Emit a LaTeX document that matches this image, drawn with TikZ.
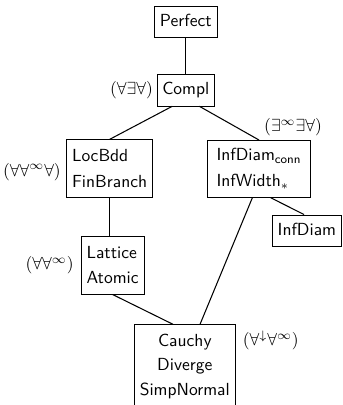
\documentclass[tikz,border=0pt]{standalone}
\usepackage{amsmath,amssymb}
\usetikzlibrary{positioning}
\tikzset{
  classbox/.style={draw,font=\sffamily,inner xsep=3pt,inner ysep=4.5pt},
  onebox/.style={classbox,text height=7pt,text depth=2pt},
  stackbox/.style={classbox,align=left},
  quant/.style={inner sep=1pt},
  link/.style={semithick}
}
\begin{document}
\begin{tikzpicture}
  \useasboundingbox (0,0) rectangle (6.87,8.13);
  \node[onebox] (Perfect) at (3.73,7.69) {Perfect};
  \node[onebox] (Compl) at (3.73,6.32) {Compl};
  \node[stackbox,minimum height=1.15cm] (LocBdd) at (2.20,4.75)
    {LocBdd\\[3pt]FinBranch};
  \node[stackbox,minimum height=1.13cm,minimum width=2.07cm] (InfDiamConn) at (5.20,4.74)
    {InfDiam$_{\textsf{conn}}$\\[3pt]InfWidth$_*$};
  \node[onebox] (InfDiam) at (6.16,3.50) {InfDiam};
  \node[stackbox,minimum height=1.17cm] (Lattice) at (2.26,2.81)
    {Lattice\\[2pt]Atomic};
  \node[stackbox,align=center,minimum height=1.67cm] (Cauchy) at (3.71,0.78)
    {Cauchy\\[2pt]Diverge\\[2pt]SimpNormal};
  % quantifier labels
  \node[quant,left=1pt of Compl] (qCompl) {$(\forall\exists\forall)$};
  \node[quant,left=2pt of LocBdd,yshift=-2pt] (qLocBdd) {$(\forall\forall^\infty\forall)$};
  \node[quant,left=3pt of Lattice] (qLattice) {$(\forall\forall^\infty)$};
  \node[quant,above=1pt of InfDiamConn.north east,xshift=-0.36cm] (qInfDiamConn)
    {$(\exists^\infty\exists\forall)$};
  \node[quant,right=3pt of Cauchy.north east,anchor=north west,yshift=-2.5pt] (qCauchy)
    {$(\forall^{\downarrow}\forall^\infty)$};
  % order
  \draw[link] (Perfect.south) -- (Compl.north);
  \draw[link] (Compl.-130) -- (LocBdd.north);
  \draw[link] (Compl.-50) -- (InfDiamConn.north);
  \draw[link] (LocBdd.south) -- (LocBdd.south |- Lattice.north);
  \draw[link] (InfDiamConn.-68) -- (InfDiam.100);
  \draw[link] (Lattice.south) -- (Cauchy.106);
  \draw[link] (InfDiamConn.-103) -- (Cauchy.70);
\end{tikzpicture}
\end{document}
